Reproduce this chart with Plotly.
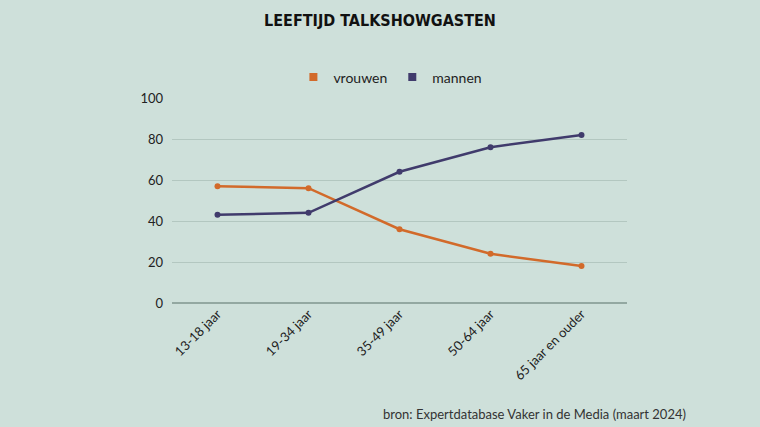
import plotly.graph_objects as go

categories = ["13-18 jaar", "19-34 jaar", "35-49 jaar", "50-64 jaar", "65 jaar en ouder"]
vrouwen = [57, 56, 36, 24, 18]
mannen = [43, 44, 64, 76, 82]
series_names = ["vrouwen", "mannen"]

bg = "#cee0da"
orange = "#d26a2a"
purple = "#403b6c"

fig = go.Figure()
for name, vals, col in [(series_names[0], vrouwen, orange), (series_names[1], mannen, purple)]:
    fig.add_trace(go.Scatter(x=categories, y=vals, name=name, mode="lines+markers", showlegend=False,
                             line=dict(color=col, width=2.5), marker=dict(size=6, color=col)))
for name, col in [(series_names[0], orange), (series_names[1], purple)]:
    fig.add_trace(go.Scatter(x=[None], y=[None], name=name, mode="markers",
                             marker=dict(size=8, color=col, symbol="square")))

fig.update_layout(
    width=760, height=427,
    paper_bgcolor=bg, plot_bgcolor=bg,
    margin=dict(l=172, r=133, t=98, b=124),
    title=dict(text="<b>LEEFTIJD TALKSHOWGASTEN</b>", x=0.5, xanchor="center", y=0.953, yanchor="middle",
               font=dict(family="DejaVu Sans Condensed, Liberation Sans Narrow, sans-serif", size=16, color="#111111")),
    legend=dict(orientation="h", x=0.48, xanchor="center", y=1.1, yanchor="middle",
                font=dict(family="Lato, sans-serif", size=14, color="#222222"), bgcolor="rgba(0,0,0,0)",
                itemwidth=30),
    showlegend=True,
    font=dict(family="Lato, sans-serif", color="#222222", size=13),
)
fig.update_xaxes(range=[-0.5, 4.5], tickangle=-45, showgrid=False, showline=False, zeroline=False,
                 tickfont=dict(size=13, color="#222222"), ticks="")
fig.update_yaxes(range=[0, 100], dtick=20, showgrid=True, gridcolor="#b3c7c0", gridwidth=1,
                 zeroline=True, zerolinecolor="#93a8a1", zerolinewidth=2, showline=False,
                 tickfont=dict(size=13, color="#222222"), ticks="", ticklabelstandoff=8)

fig.add_annotation(text="bron: Expertdatabase Vaker in de Media (maart 2024)", xref="paper", yref="paper",
                   x=1.133, xanchor="right", y=-0.54, yanchor="middle", showarrow=False,
                   font=dict(family="Lato, sans-serif", size=13, color="#333333"))

fig.write_html("out.html")
